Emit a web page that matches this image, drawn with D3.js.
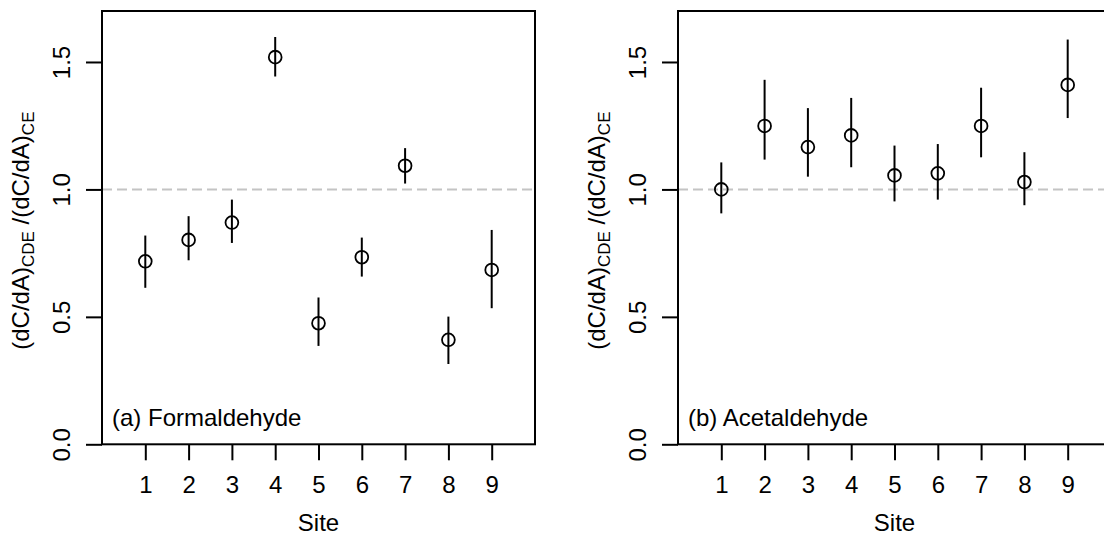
<!DOCTYPE html>
<html lang="en">
<head>
<meta charset="utf-8" />
<title>Site ratios</title>
<script src="https://d3js.org/d3.v7.min.js"></script>
<style>
  body { margin: 0; background: #fff; }
  svg text { font-family: "Liberation Sans", Arial, sans-serif; fill: #000; }
  .tick line { stroke: #000; stroke-width: 2px; }
</style>
</head>
<body>
<svg width="1104" height="535"></svg>
<script>
// values
var sites = [1, 2, 3, 4, 5, 6, 7, 8, 9];
var yTicks = [0, 0.5, 1.0, 1.5];

var formVal = [0.718, 0.802, 0.870, 1.519, 0.475, 0.734, 1.093, 0.410, 0.684];
var formLo  = [0.614, 0.722, 0.790, 1.443, 0.386, 0.658, 1.023, 0.315, 0.534];
var formHi  = [0.819, 0.895, 0.960, 1.598, 0.576, 0.811, 1.162, 0.501, 0.841];

var acetVal = [1.000, 1.249, 1.166, 1.212, 1.055, 1.063, 1.249, 1.029, 1.410];
var acetLo  = [0.906, 1.117, 1.050, 1.087, 0.953, 0.960, 1.126, 0.938, 1.280];
var acetHi  = [1.106, 1.430, 1.319, 1.359, 1.172, 1.178, 1.399, 1.146, 1.588];

var svg = d3.select("svg");
var plotTop = 11, plotBottom = 444.3;

function panel(left, label, vals, lo, hi) {
    var x = d3.scaleLinear().domain([0, 10]).range([left, left + 433]);
    var y = d3.scaleLinear().domain([0, 1.7]).range([plotBottom, plotTop]);
    var g = svg.append("g");

    var rows = sites.map(function (s, i) {
        return { site: s, v: vals[i], lo: lo[i], hi: hi[i] };
    });

    // reference line at 1
    g.append("line")
        .attr("x1", x(0)).attr("x2", x(10))
        .attr("y1", y(1)).attr("y2", y(1))
        .attr("stroke", "#c4c4c4")
        .attr("stroke-width", 2)
        .attr("stroke-dasharray", "10,5");

    // error bars
    g.selectAll("line.err")
        .data(rows)
        .enter().append("line")
        .attr("class", "err")
        .attr("x1", function (d) { return x(d.site); })
        .attr("x2", function (d) { return x(d.site); })
        .attr("y1", function (d) { return y(d.lo); })
        .attr("y2", function (d) { return y(d.hi); })
        .attr("stroke", "#000")
        .attr("stroke-width", 2);

    // open circles
    g.selectAll("circle")
        .data(rows)
        .enter().append("circle")
        .attr("cx", function (d) { return x(d.site); })
        .attr("cy", function (d) { return y(d.v); })
        .attr("r", 6.4)
        .attr("fill", "none")
        .attr("stroke", "#000")
        .attr("stroke-width", 1.8);

    // x axis
    var xa = g.append("g")
        .attr("transform", "translate(0," + plotBottom + ")")
        .call(d3.axisBottom(x).tickValues(sites).tickSize(16).tickFormat(d3.format("d")));
    xa.select(".domain").remove();
    xa.selectAll("text")
        .attr("y", 49)
        .attr("dy", 0)
        .style("font-size", "24px");

    // y axis, labels turned like R's default
    var ya = g.append("g")
        .attr("transform", "translate(" + left + ",0)")
        .call(d3.axisLeft(y).tickValues(yTicks).tickSize(16).tickFormat(d3.format(".1f")));
    ya.select(".domain").remove();
    ya.selectAll("text")
        .attr("transform", "rotate(-90)")
        .attr("x", 0)
        .attr("y", -32)
        .attr("dy", 0)
        .attr("text-anchor", "middle")
        .style("font-size", "24px");

    // box
    g.append("rect")
        .attr("x", x(0)).attr("y", plotTop)
        .attr("width", x(10) - x(0)).attr("height", plotBottom - plotTop)
        .attr("fill", "none")
        .attr("stroke", "#000")
        .attr("stroke-width", 2);

    g.append("text")
        .attr("x", left + 10)
        .attr("y", 426)
        .style("font-size", "24px")
        .text(label);

    g.append("text")
        .attr("x", x(5))
        .attr("y", 531)
        .attr("text-anchor", "middle")
        .style("font-size", "24px")
        .text("Site");

    // y title with subscripts
    var t = g.append("text")
        .attr("transform", "translate(" + (left - 73) + "," + ((plotTop + plotBottom) / 2 + 3) + ") rotate(-90)")
        .attr("text-anchor", "middle")
        .style("font-size", "24px");
    t.append("tspan").text("(dC/dA)");
    t.append("tspan").attr("dy", 5).style("font-size", "17px").text("CDE");
    t.append("tspan").attr("dy", -5).text(" /(dC/dA)");
    t.append("tspan").attr("dy", 5).style("font-size", "17px").text("CE");
}

panel(102, "(a) Formaldehyde", formVal, formLo, formHi);
panel(678, "(b) Acetaldehyde", acetVal, acetLo, acetHi);
</script>
</body>
</html>
